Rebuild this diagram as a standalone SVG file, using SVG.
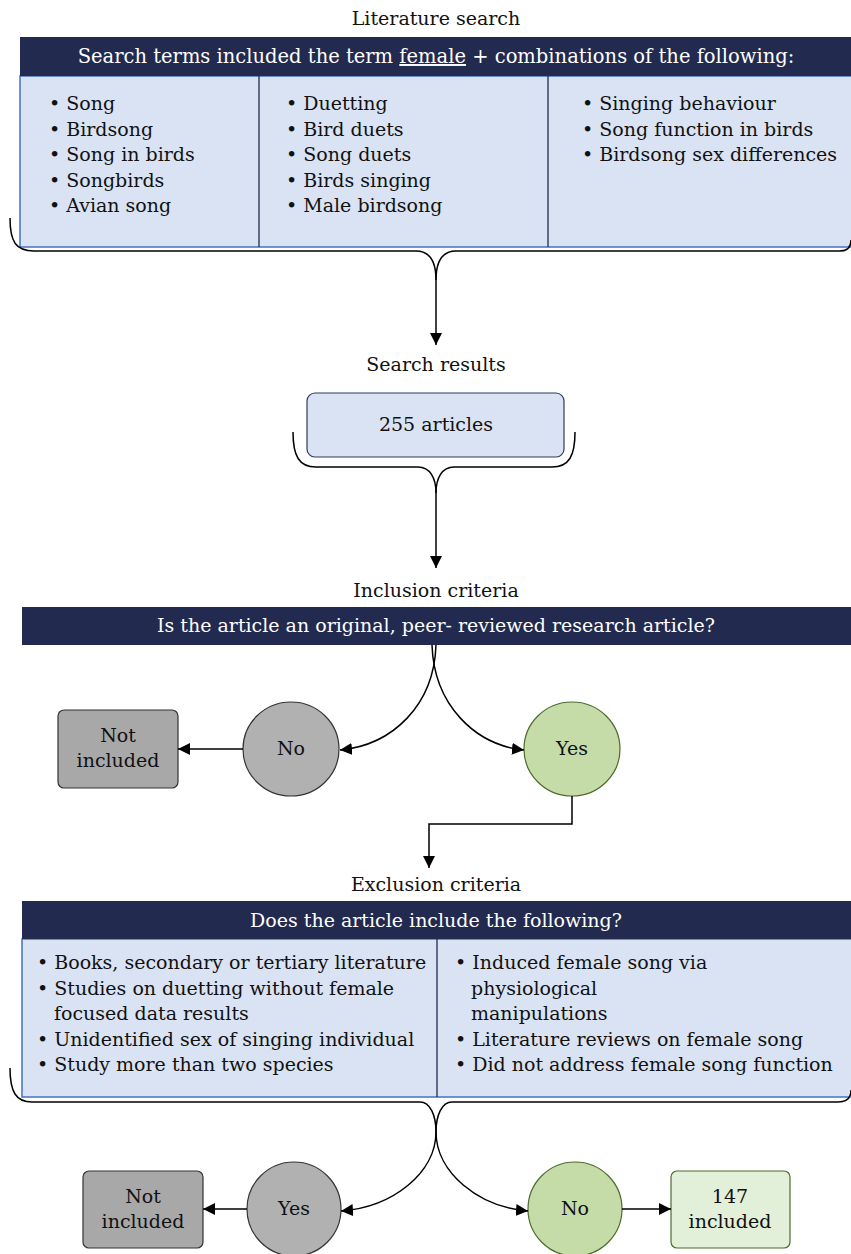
<svg xmlns="http://www.w3.org/2000/svg" width="851" height="1254" viewBox="0 0 851 1254">
<defs>
<marker id="ah" viewBox="0 0 10 10" refX="10" refY="5" markerWidth="12" markerHeight="12" markerUnits="userSpaceOnUse" orient="auto">
<path d="M0,0 L10,5 L0,10 z" fill="#000"/>
</marker>
<style>
text{font-family:"DejaVu Serif","Liberation Serif",serif;font-size:19px;fill:#111}
.c{text-anchor:middle}
.hd{fill:#fff;font-size:19px}
.hd1{font-size:19.5px}
.navy{fill:#232a50}
.body{fill:#dae3f3;stroke:#4472c4;stroke-width:1.5}
.div{stroke:#232a50;stroke-width:1.3}
.ln{fill:none;stroke:#000;stroke-width:1.5}
.gray{fill:#b1b1b1;stroke:#333;stroke-width:1.2}
.grayb{fill:#a8a8a8;stroke:#333;stroke-width:1.2}
.green{fill:#c5dca8;stroke:#4e6b2e;stroke-width:1.2}
.greenb{fill:#e2efd9;stroke:#4e6b2e;stroke-width:1.2}
.blueb{fill:#dae3f3;stroke:#2f3a5c;stroke-width:1.2}
</style>
</defs>
<rect width="851" height="1254" fill="#fff"/>

<g id="lit-search">
<text class="c" x="436" y="25">Literature search</text>
<rect class="body" x="20" y="76" width="835" height="171"/>
<rect class="navy" x="20" y="37" width="835" height="39"/>
<text class="c hd hd1" x="436" y="63">Search terms included the term <tspan text-decoration="underline">female</tspan> + combinations of the following:</text>
<line class="div" x1="259" y1="76" x2="259" y2="247"/>
<line class="div" x1="548" y1="76" x2="548" y2="247"/>
<text x="49" y="110">• Song</text>
<text x="49" y="136">• Birdsong</text>
<text x="49" y="161">• Song in birds</text>
<text x="49" y="187">• Songbirds</text>
<text x="49" y="212">• Avian song</text>
<text x="286" y="110">• Duetting</text>
<text x="286" y="136">• Bird duets</text>
<text x="286" y="161">• Song duets</text>
<text x="286" y="187">• Birds singing</text>
<text x="286" y="212">• Male birdsong</text>
<text x="582" y="110">• Singing behaviour</text>
<text x="582" y="136">• Song function in birds</text>
<text x="582" y="161">• Birdsong sex differences</text>
</g>

<g id="search-results">
<text class="c" x="436" y="371">Search results</text>
<rect class="blueb" x="307" y="393" width="257" height="64" rx="8"/>
<text class="c" x="436" y="431">255 articles</text>
</g>

<g id="inclusion">
<text class="c" x="436" y="597">Inclusion criteria</text>
<rect class="navy" x="22" y="607" width="833" height="38"/>
<text class="c hd" x="436" y="632">Is the article an original, peer- reviewed research article?</text>
</g>

<g id="inc-no">
<ellipse class="gray" cx="291" cy="749" rx="48" ry="47"/>
<text class="c" x="291" y="755">No</text>
</g>
<g id="inc-not-included">
<rect class="grayb" x="58" y="710" width="120" height="78" rx="6"/>
<text class="c" x="118" y="742">Not</text>
<text class="c" x="118" y="767">included</text>
</g>
<g id="inc-yes">
<ellipse class="green" cx="572" cy="749" rx="48" ry="47"/>
<text class="c" x="572" y="755">Yes</text>
</g>

<g id="exclusion">
<text class="c" x="436" y="891">Exclusion criteria</text>
<rect class="body" x="22" y="939" width="833" height="158"/>
<rect class="navy" x="22" y="901" width="833" height="38"/>
<text class="c hd" x="436" y="927">Does the article include the following?</text>
<line class="div" x1="437" y1="939" x2="437" y2="1097"/>
<text x="37" y="969">• Books, secondary or tertiary literature</text>
<text x="37" y="995">• Studies on duetting without female</text>
<text x="54" y="1020">focused data results</text>
<text x="37" y="1046">• Unidentified sex of singing individual</text>
<text x="37" y="1071">• Study more than two species</text>
<text x="455" y="969">• Induced female song via</text>
<text x="471" y="995">physiological</text>
<text x="471" y="1020">manipulations</text>
<text x="455" y="1046">• Literature reviews on female song</text>
<text x="455" y="1071">• Did not address female song function</text>
</g>

<g id="exc-yes">
<ellipse class="gray" cx="294" cy="1209" rx="47" ry="47"/>
<text class="c" x="294" y="1215">Yes</text>
</g>
<g id="exc-not-included">
<rect class="grayb" x="83" y="1171" width="120" height="77" rx="6"/>
<text class="c" x="143" y="1203">Not</text>
<text class="c" x="143" y="1228">included</text>
</g>
<g id="exc-no">
<ellipse class="green" cx="575" cy="1209" rx="47" ry="47"/>
<text class="c" x="575" y="1215">No</text>
</g>
<g id="included-147">
<rect class="greenb" x="671" y="1171" width="119" height="77" rx="6"/>
<text class="c" x="730" y="1203">147</text>
<text class="c" x="730" y="1228">included</text>
</g>

<g id="connectors">
<path class="ln" d="M10,218 C10,242 16,251 34,251 L416,251 C430,251 436,262 436,280"/>
<path class="ln" d="M851,240 C851,247 848,251 840,251 L456,251 C442,251 436,262 436,280"/>
<path class="ln" d="M436,280 L436,345" marker-end="url(#ah)"/>
<path class="ln" d="M293,432 C293,456 299,467 316,467 L418,467 C430,467 436,478 436,493"/>
<path class="ln" d="M575,432 C575,456 569,467 552,467 L454,467 C442,467 436,478 436,493"/>
<path class="ln" d="M436,493 L436,568" marker-end="url(#ah)"/>
<path class="ln" d="M432,645 C434,705 475,745 524,750" marker-end="url(#ah)"/>
<path class="ln" d="M436,645 C434,705 393,745 340,750" marker-end="url(#ah)"/>
<path class="ln" d="M243,749 L178,749" marker-end="url(#ah)"/>
<path class="ln" d="M572,796 L572,824 L429,824 L429,868" marker-end="url(#ah)"/>
<path class="ln" d="M10,1068 C10,1092 16,1102 32,1102 L420,1102 C430,1102 436,1115 436,1132 C436,1172 478,1207 528,1211" marker-end="url(#ah)"/>
<path class="ln" d="M851,1090 C851,1098 846,1102 838,1102 L452,1102 C442,1102 436,1115 436,1132 C436,1172 394,1207 341,1211" marker-end="url(#ah)"/>
<path class="ln" d="M247,1209 L203,1209" marker-end="url(#ah)"/>
<path class="ln" d="M622,1209 L671,1209" marker-end="url(#ah)"/>
</g>
</svg>
